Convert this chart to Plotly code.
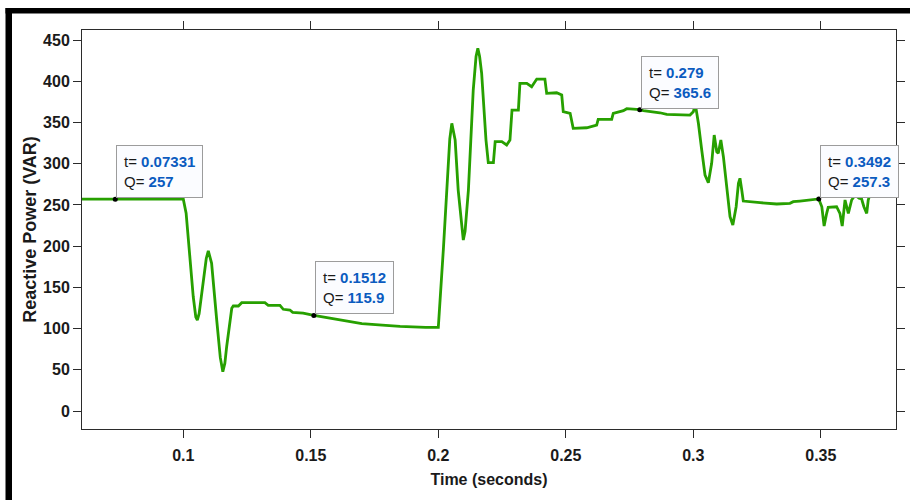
import plotly.graph_objects as go

# Reactive power response of the inverter over time
time_s = [
    0.0600, 0.0733, 0.1000, 0.1011, 0.1026, 0.1039, 0.1049, 0.1055, 0.1062,
    0.1078, 0.1090, 0.1098, 0.1106, 0.1111, 0.1131, 0.1145, 0.1155, 0.1163,
    0.1170, 0.1190, 0.1196, 0.1216, 0.1229, 0.1320, 0.1333, 0.1379, 0.1392,
    0.1418, 0.1429, 0.1470, 0.1512, 0.1580, 0.1650, 0.1700, 0.1780, 0.1850,
    0.1950, 0.2000,
    0.2020, 0.2033, 0.2045, 0.2053, 0.2066, 0.2078, 0.2092, 0.2098, 0.2105,
    0.2118, 0.2137, 0.2148, 0.2155, 0.2162, 0.2170, 0.2187, 0.2196, 0.2216,
    0.2223, 0.2249, 0.2268, 0.2281, 0.2289, 0.2314, 0.2320, 0.2347, 0.2366,
    0.2386, 0.2418, 0.2425, 0.2464, 0.2484, 0.2490, 0.2517, 0.2529, 0.2582,
    0.2621, 0.2627, 0.2680, 0.2686, 0.2726, 0.2739, 0.2790, 0.2804, 0.2869,
    0.2896, 0.2987, 0.3000, 0.3008, 0.3020, 0.3033, 0.3046, 0.3059, 0.3072,
    0.3082, 0.3092, 0.3098, 0.3108, 0.3118, 0.3131, 0.3144, 0.3155, 0.3168,
    0.3177, 0.3183, 0.3190, 0.3196, 0.3262, 0.3327, 0.3379, 0.3392, 0.3418,
    0.3492, 0.3504, 0.3513, 0.3523, 0.3529, 0.3562, 0.3575, 0.3584, 0.3595,
    0.3608, 0.3621, 0.3635, 0.3650, 0.3660, 0.3669, 0.3680, 0.3686, 0.3700,
    0.3725, 0.3750, 0.3770, 0.3784, 0.3798,
]
q_var = [
    257.0, 257.0, 257.0, 240.0, 179.5, 138.6, 114.0, 110.4, 118.0,
    158.9, 185.0, 194.4, 186.0, 179.2, 110.4, 65.0, 47.7, 58.0,
    78.0, 124.6, 127.4, 127.4, 131.4, 131.4, 128.2, 128.2, 123.4,
    122.5, 119.7, 118.8, 115.9, 112.0, 108.3, 106.0, 104.3, 102.6,
    101.5, 101.5,
    197.0, 268.0, 330.0, 349.0, 328.7, 268.0, 220.0, 207.4, 218.0,
    268.0, 389.4, 430.0, 440.0, 430.0, 409.6, 328.7, 301.2, 301.2,
    326.7, 326.7, 322.7, 328.7, 365.1, 365.1, 397.5, 397.5, 393.4,
    402.7, 402.7, 385.4, 386.1, 383.3, 363.1, 361.1, 342.9, 343.6,
    346.9, 353.8, 353.8, 361.1, 364.3, 366.7, 365.6, 364.3, 361.8,
    359.9, 359.0, 363.0, 372.0, 349.0, 316.6, 286.3, 277.0, 300.5,
    334.8, 314.5, 312.6, 328.7, 308.5, 268.0, 235.7, 225.6, 247.8,
    276.2, 282.3, 268.0, 254.7, 252.7, 251.1, 251.9, 253.9, 254.7,
    257.3, 247.8, 224.4, 239.8, 247.0, 247.8, 239.8, 224.4, 256.0,
    239.8, 256.0, 262.0, 258.0, 257.2, 247.8, 239.8, 256.0, 270.0,
    265.0, 275.0, 282.0, 284.2, 278.1,
]

# Data tips placed on the curve
tip_t = [0.07331, 0.1512, 0.279, 0.3492]
tip_q = [257, 115.9, 365.6, 257.3]
tip_t_text = ["0.07331", "0.1512", "0.279", "0.3492"]
tip_q_text = ["257", "115.9", "365.6", "257.3"]

x_ticks = [0.1, 0.15, 0.2, 0.25, 0.3, 0.35]
x_tick_text = ["0.1", "0.15", "0.2", "0.25", "0.3", "0.35"]
y_ticks = [0, 50, 100, 150, 200, 250, 300, 350, 400, 450]

FONT = "Liberation Sans, Arial, sans-serif"
INK = "#1a1a1a"
AXIS = "#2b2b2b"
VALUE_BLUE = "#0b5bbf"

fig = go.Figure()

fig.add_trace(go.Scatter(
    x=time_s, y=q_var, mode="lines",
    line=dict(color="#27a000", width=2.8),
    hoverinfo="skip", showlegend=False,
))

fig.add_trace(go.Scatter(
    x=tip_t, y=tip_q, mode="markers",
    marker=dict(color="black", size=5),
    hoverinfo="skip", showlegend=False,
))

for t, q, tt, qt in zip(tip_t, tip_q, tip_t_text, tip_q_text):
    fig.add_annotation(
        x=t, y=q, xref="x", yref="y",
        showarrow=False, xanchor="left", yanchor="bottom",
        xshift=1, yshift=1, align="left",
        text=(f"t= <span style='color:{VALUE_BLUE}'><b>{tt}</b></span><br>"
              f"Q= <span style='color:{VALUE_BLUE}'><b>{qt}</b></span>"),
        font=dict(family=FONT, size=15, color=INK),
        bgcolor="#fbfcff", bordercolor="#9c9c9c", borderwidth=1, borderpad=7,
    )

# Heavy black frame along the left and top edges of the figure
L, R, T, B = 82, 14, 30, 71
W, H = 910, 500
pw, ph = W - L - R, H - T - B


def px_x(v):
    return (v - L) / pw


def px_y(v):
    return (H - B - v) / ph


fig.add_shape(type="rect", xref="paper", yref="paper",
              x0=px_x(5.5), x1=px_x(12), y0=px_y(505), y1=px_y(8),
              fillcolor="black", line=dict(width=0), layer="above")
fig.add_shape(type="rect", xref="paper", yref="paper",
              x0=px_x(5.5), x1=px_x(915), y0=px_y(13.5), y1=px_y(8),
              fillcolor="black", line=dict(width=0), layer="above")

axis_common = dict(
    showgrid=False, zeroline=False,
    showline=True, linecolor=AXIS, linewidth=1, mirror="ticks",
    ticks="outside", ticklen=8, tickcolor=AXIS, tickwidth=1,
    tickfont=dict(family=FONT, size=16, color=INK, weight="bold"),
)

fig.update_xaxes(
    range=[0.06027, 0.37949], tickvals=x_ticks, ticktext=x_tick_text,
    ticklabelstandoff=4,
    title=dict(text="Time (seconds)", standoff=10,
               font=dict(family=FONT, size=16, color=INK, weight="bold")),
    **axis_common,
)
fig.update_yaxes(
    range=[-21.83, 462.2], tickvals=y_ticks,
    title=dict(text="Reactive Power (VAR)", standoff=1,
               font=dict(family=FONT, size=18, color=INK, weight="bold")),
    **axis_common,
)

fig.update_layout(
    width=W, height=H,
    margin=dict(l=L, r=R, t=T, b=B, autoexpand=False),
    plot_bgcolor="white", paper_bgcolor="white",
)

fig.write_html("out.html")
